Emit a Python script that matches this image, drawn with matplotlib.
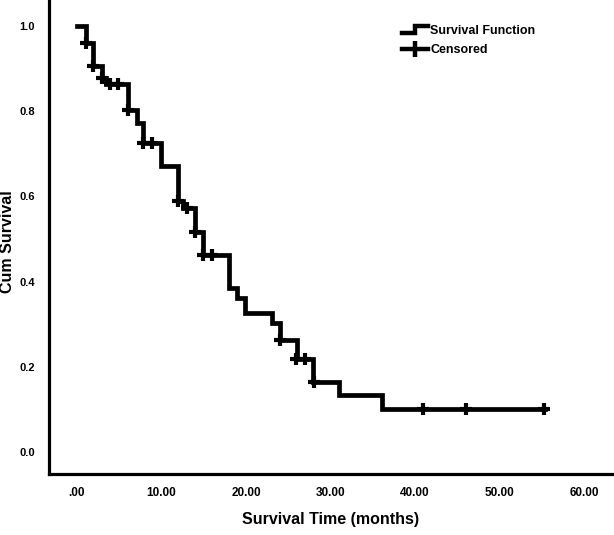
import matplotlib
matplotlib.use("Agg")
import matplotlib.pyplot as plt
from matplotlib.legend_handler import HandlerLine2D
from matplotlib.lines import Line2D
import numpy as np

# ---- data ----
event_times = [0.0, 1.1, 1.9, 3.0, 3.4, 6.0, 7.1, 7.8, 9.9, 12.0, 12.5, 14.0, 14.9,
               18.0, 18.9, 19.9, 23.1, 24.0, 26.0, 27.9, 31.0, 36.1, 55.4]
survival = [1.0, 0.96, 0.905, 0.878, 0.863, 0.803, 0.772, 0.725, 0.671, 0.589, 0.573,
            0.516, 0.462, 0.385, 0.361, 0.326, 0.303, 0.263, 0.218, 0.164, 0.134, 0.101, 0.101]
censor_times = [1.1, 1.9, 3.0, 3.9, 4.9, 6.0, 7.8, 8.9, 12.0, 13.0, 14.0, 14.9, 16.0,
                24.0, 25.9, 27.0, 28.0, 41.0, 46.0, 55.2]
censor_surv = [0.96, 0.905, 0.878, 0.863, 0.863, 0.803, 0.725, 0.725, 0.589, 0.573,
               0.516, 0.462, 0.462, 0.263, 0.218, 0.218, 0.164, 0.101, 0.101, 0.101]
x_ticks = [0, 10, 20, 30, 40, 50, 60]
x_tick_labels = [".00", "10.00", "20.00", "30.00", "40.00", "50.00", "60.00"]
y_ticks = [0.0, 0.2, 0.4, 0.6, 0.8, 1.0]
y_tick_labels = ["0.0", "0.2", "0.4", "0.6", "0.8", "1.0"]

FONT = ['Liberation Sans', 'DejaVu Sans']
plt.rcParams['font.family'] = FONT


class StepHandler(HandlerLine2D):
    def create_artists(self, legend, orig_handle, xdescent, ydescent, width, height,
                       fontsize, trans):
        x0 = -xdescent
        y0 = -ydescent
        xs = [x0, x0 + width * 0.5, x0 + width * 0.5, x0 + width]
        ys = [y0 + height * 0.15, y0 + height * 0.15, y0 + height * 0.85, y0 + height * 0.85]
        line = Line2D(xs, ys, color='black', lw=3.2, solid_joinstyle='miter')
        line.set_transform(trans)
        return [line]


fig = plt.figure(figsize=(6.14, 5.35), dpi=100)
ax = fig.add_axes([0.0798, 0.114, 0.9169, 0.886])

ax.step(event_times, survival, where='post', color='black', lw=3.4,
        solid_joinstyle='miter')
ax.plot(censor_times, censor_surv, ls='none', marker='+', color='black',
        markersize=9, markeredgewidth=3)

ax.set_xlim(-3.3, 63.3)
ax.set_ylim(-0.052, 1.061)
ax.set_xticks(x_ticks)
ax.set_xticklabels(x_tick_labels)
ax.set_yticks(y_ticks)
ax.set_yticklabels(y_tick_labels)
ax.tick_params(length=0, labelsize=8.5)
ax.tick_params(axis='y', pad=10, labelsize=8)
ax.tick_params(axis='x', pad=9)
for lab in ax.get_xticklabels() + ax.get_yticklabels():
    lab.set_fontweight('bold')

for s in ['top', 'right']:
    ax.spines[s].set_visible(False)
for s in ['left', 'bottom']:
    ax.spines[s].set_linewidth(2.3)

ax.set_xlabel('Survival Time (months)', fontsize=11.5, fontweight='bold', labelpad=10)
ax.set_ylabel('Cum Survival', fontsize=11.5, fontweight='bold')
ax.yaxis.set_label_coords(-0.061, 0.49)

h_step = Line2D([], [], color='black', lw=3.2)
h_cens = Line2D([], [], color='black', lw=3.2, marker='|', markersize=11,
                markeredgewidth=3.2)
leg = ax.legend([h_step, h_cens], ['Survival Function', 'Censored'],
                handler_map={h_step: StepHandler()},
                loc='upper left', bbox_to_anchor=(0.618, 0.958), frameon=False,
                prop={'weight': 'bold', 'size': 9, 'family': FONT},
                handlelength=2.1, handletextpad=0.15, labelspacing=0.6,
                borderaxespad=0)

fig.savefig('out.png', dpi=100)
